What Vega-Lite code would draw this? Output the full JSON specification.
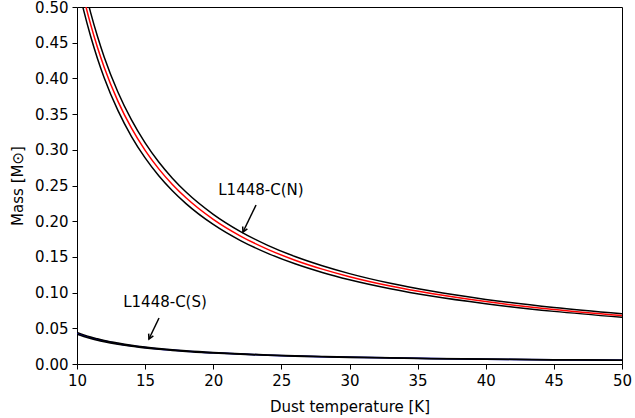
{
  "$schema": "https://vega.github.io/schema/vega-lite/v6.json",
  "width": 545,
  "height": 357,
  "autosize": {"type": "none"},
  "padding": {"left": 77, "top": 7, "right": 13, "bottom": 54},
  "background": "white",
  "config": {
    "font": "DejaVu Sans",
    "view": {"stroke": "black", "strokeWidth": 1},
    "axis": {
      "grid": false,
      "domain": false,
      "tickColor": "black",
      "tickSize": 5,
      "labelFont": "DejaVu Sans",
      "labelFontSize": 15,
      "labelColor": "black",
      "labelOverlap": false,
      "labelFlush": false,
      "titleFont": "DejaVu Sans",
      "titleFontSize": 15,
      "titleFontWeight": "normal",
      "titleColor": "black",
      "labelPadding": 4
    }
  },
  "datasets": {
    "curves": [
      {"T": 10, "N": 0.5549, "Nhi": 0.5743, "Nlo": 0.5355, "S": 0.0429, "Shi": 0.0441, "Slo": 0.0417},
      {"T": 10.5, "N": 0.5124, "Nhi": 0.5303, "Nlo": 0.4945, "S": 0.0397, "Shi": 0.0408, "Slo": 0.0386},
      {"T": 11, "N": 0.4756, "Nhi": 0.4922, "Nlo": 0.4590, "S": 0.0368, "Shi": 0.0378, "Slo": 0.0358},
      {"T": 11.5, "N": 0.4435, "Nhi": 0.4590, "Nlo": 0.4280, "S": 0.0343, "Shi": 0.0353, "Slo": 0.0333},
      {"T": 12, "N": 0.4152, "Nhi": 0.4297, "Nlo": 0.4007, "S": 0.0321, "Shi": 0.0330, "Slo": 0.0312},
      {"T": 13, "N": 0.3681, "Nhi": 0.3810, "Nlo": 0.3552, "S": 0.0285, "Shi": 0.0293, "Slo": 0.0277},
      {"T": 14, "N": 0.3302, "Nhi": 0.3418, "Nlo": 0.3186, "S": 0.0255, "Shi": 0.0262, "Slo": 0.0248},
      {"T": 15, "N": 0.2992, "Nhi": 0.3097, "Nlo": 0.2887, "S": 0.0231, "Shi": 0.0237, "Slo": 0.0225},
      {"T": 16, "N": 0.2733, "Nhi": 0.2829, "Nlo": 0.2637, "S": 0.0211, "Shi": 0.0217, "Slo": 0.0205},
      {"T": 17, "N": 0.2515, "Nhi": 0.2603, "Nlo": 0.2427, "S": 0.0195, "Shi": 0.0200, "Slo": 0.0190},
      {"T": 18, "N": 0.2328, "Nhi": 0.2409, "Nlo": 0.2247, "S": 0.0180, "Shi": 0.0185, "Slo": 0.0175},
      {"T": 20, "N": 0.2026, "Nhi": 0.2097, "Nlo": 0.1955, "S": 0.0157, "Shi": 0.0161, "Slo": 0.0153},
      {"T": 22, "N": 0.1792, "Nhi": 0.1855, "Nlo": 0.1729, "S": 0.0139, "Shi": 0.0143, "Slo": 0.0135},
      {"T": 24, "N": 0.1606, "Nhi": 0.1662, "Nlo": 0.1550, "S": 0.0124, "Shi": 0.0127, "Slo": 0.0121},
      {"T": 26, "N": 0.1454, "Nhi": 0.1505, "Nlo": 0.1403, "S": 0.0113, "Shi": 0.0116, "Slo": 0.0110},
      {"T": 28, "N": 0.1329, "Nhi": 0.1376, "Nlo": 0.1282, "S": 0.0103, "Shi": 0.0106, "Slo": 0.0100},
      {"T": 30, "N": 0.1223, "Nhi": 0.1266, "Nlo": 0.1180, "S": 0.0095, "Shi": 0.0098, "Slo": 0.0092},
      {"T": 33, "N": 0.1092, "Nhi": 0.1130, "Nlo": 0.1054, "S": 0.0085, "Shi": 0.0087, "Slo": 0.0083},
      {"T": 36, "N": 0.0986, "Nhi": 0.1021, "Nlo": 0.0951, "S": 0.0076, "Shi": 0.0078, "Slo": 0.0074},
      {"T": 40, "N": 0.0874, "Nhi": 0.0905, "Nlo": 0.0843, "S": 0.0068, "Shi": 0.0070, "Slo": 0.0066},
      {"T": 45, "N": 0.0764, "Nhi": 0.0791, "Nlo": 0.0737, "S": 0.0059, "Shi": 0.0061, "Slo": 0.0057},
      {"T": 50, "N": 0.0679, "Nhi": 0.0703, "Nlo": 0.0655, "S": 0.0053, "Shi": 0.0054, "Slo": 0.0052}
    ],
    "labels": [
      {"label": "L1448-C(N)", "T": 23.5, "M": 0.244},
      {"label": "L1448-C(S)", "T": 16.46, "M": 0.0868}
    ],
    "arrows": [
      {"T": 23.14, "M": 0.2227, "T2": 22.18, "M2": 0.1849},
      {"T": 16.02, "M": 0.0644, "T2": 15.28, "M2": 0.035}
    ],
    "heads": [
      {"T": 22.18, "M": 0.1849},
      {"T": 15.28, "M": 0.035}
    ]
  },
  "encoding": {
    "x": {"field": "T", "type": "quantitative", "scale": {"domain": [10, 50], "nice": false},
      "axis": {"values": [10, 15, 20, 25, 30, 35, 40, 45, 50], "title": "Dust temperature [K]", "titlePadding": 11, "labelFontSize": 15, "titleFontSize": 15, "labelOverlap": false, "labelFlush": false}},
    "y": {"field": "M", "type": "quantitative", "scale": {"domain": [0, 0.5], "nice": false},
      "axis": {"values": [0, 0.05, 0.1, 0.15, 0.2, 0.25, 0.3, 0.35, 0.4, 0.45, 0.5], "format": ".2f", "title": "Mass [M⊙]", "titlePadding": 9, "labelFontSize": 15, "titleFontSize": 15, "labelOverlap": false}}
  },
  "layer": [
    {
      "data": {"name": "curves"},
      "transform": [{"fold": ["S"], "as": ["series", "M"]}],
      "mark": {"type": "line", "color": "#0000ff", "strokeWidth": 1.5, "clip": true, "interpolate": "monotone"}
    },
    {
      "data": {"name": "curves"},
      "transform": [{"fold": ["Nhi", "Nlo", "Shi", "Slo"], "as": ["series", "M"]}],
      "mark": {"type": "line", "color": "black", "strokeWidth": 1.5, "clip": true, "interpolate": "monotone"},
      "encoding": {
        "detail": {"field": "series"}
      }
    },
    {
      "data": {"name": "curves"},
      "transform": [{"fold": ["N"], "as": ["series", "M"]}],
      "mark": {"type": "line", "color": "#ff0000", "strokeWidth": 1.5, "clip": true, "interpolate": "monotone"}
    },
    {
      "data": {"name": "arrows"},
      "mark": {"type": "rule", "color": "black", "strokeWidth": 1.5},
      "encoding": {
        "x2": {"field": "T2"},
        "y2": {"field": "M2"}
      }
    },
    {
      "data": {"name": "heads"},
      "mark": {"type": "point", "shape": "M -0.55 -1 L 0 0 L 0.55 -1", "filled": false, "color": "black", "strokeWidth": 1.5, "size": 90, "angle": 26, "opacity": 1}
    },
    {
      "data": {"name": "labels"},
      "mark": {"type": "text", "fontSize": 15, "color": "black", "align": "center", "baseline": "middle"},
      "encoding": {
        "text": {"field": "label"}
      }
    }
  ]
}
